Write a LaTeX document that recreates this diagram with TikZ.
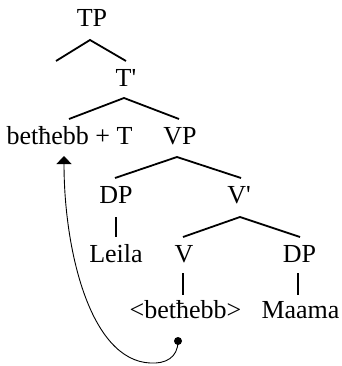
\documentclass[tikz,border=0pt]{standalone}
\usepackage{fontspec}
\setmainfont{Liberation Serif}
\usetikzlibrary{arrows.meta}
\begin{document}
\begin{tikzpicture}[x=1pt,y=-1pt,
  lab/.style={anchor=base,inner sep=0pt,font=\fontsize{26}{30}\selectfont},
  branch/.style={line width=1.8pt},
  movearrow/.style={line width=0.9pt,-{Triangle[length=8pt,width=15pt]}}]
\useasboundingbox (0,0) rectangle (341,366);
% labels
\node[lab] (TP) at (92,27) {TP};
\node[lab] (Tbar) at (126,87) {T\textquotesingle};
\node[lab] (VT) at (69.5,145) {betħebb + T};
\node[lab] (VP) at (180,145) {VP};
\node[lab] (DPa) at (116,203) {DP};
\node[lab] (Vbar) at (239,203) {V\textquotesingle};
\node[lab] (Leila) at (116,262) {Leila};
\node[lab] (V) at (184,262) {V};
\node[lab] (DPb) at (299.5,262) {DP};
\node[lab] (trace) at (185.5,318) {<betħebb>};
\node[lab] (Maama) at (300.5,318) {Maama};
% branch points
\coordinate (tpA) at (90,40);  \coordinate (tpL) at (56,61);  \coordinate (tpR) at (126,61);
\coordinate (tbA) at (124,98); \coordinate (tbL) at (69,119); \coordinate (tbR) at (179,119);
\coordinate (vpA) at (177,157); \coordinate (vpL) at (115,178); \coordinate (vpR) at (241,178);
\coordinate (dpT) at (116,217); \coordinate (dpB) at (116,237);
\coordinate (vbA) at (240,217); \coordinate (vbL) at (183,237); \coordinate (vbR) at (300,237);
\coordinate (vT) at (183,273); \coordinate (vB) at (183,295);
\coordinate (dbT) at (298,273); \coordinate (dbB) at (298,295);
\draw[branch] (tpL) -- (tpA) -- (tpR);
\draw[branch] (tbL) -- (tbA) -- (tbR);
\draw[branch] (vpL) -- (vpA) -- (vpR);
\draw[branch] (dpT) -- (dpB);
\draw[branch] (vbL) -- (vbA) -- (vbR);
\draw[branch] (vT) -- (vB);
\draw[branch] (dbT) -- (dbB);
% movement
\coordinate (dot) at (178,341);
\coordinate (low) at (150,363);
\coordinate (tip) at (64,156);
\fill (dot) circle (4);
\draw[movearrow] (dot) .. controls (178,358) and (165,364) .. (low)
  .. controls (90,360) and (64,250) .. (tip);
\end{tikzpicture}
\end{document}
